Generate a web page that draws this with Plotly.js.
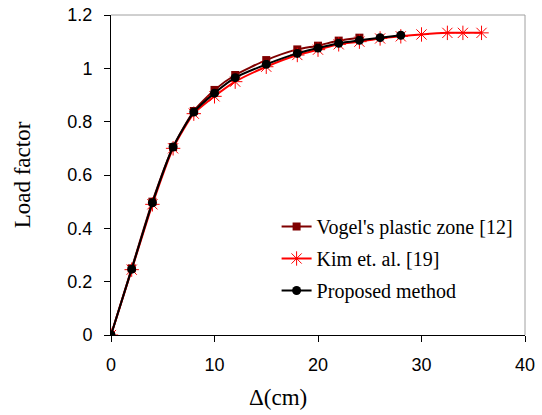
<!DOCTYPE html>
<html>
<head>
<meta charset="utf-8">
<script src="https://cdn.plot.ly/plotly-3.0.1.min.js"></script>
<style>html,body{margin:0;padding:0;background:#fff;}#chart{width:542px;height:415px;}</style>
</head>
<body>
<div id="chart"></div>
<script>
// Data
var vogelX = [0, 2, 4, 6, 8, 10, 12, 15, 18, 20, 22, 24];
var vogelY = [0, 0.25, 0.5, 0.705, 0.84, 0.919, 0.975, 1.031, 1.071, 1.085, 1.104, 1.115];

var kimX = [0, 2, 4, 6, 8, 10, 12, 15, 18, 20, 22, 24, 26, 28, 30, 32.5, 34, 35.8];
var kimY = [0, 0.245, 0.49, 0.7, 0.83, 0.895, 0.95, 1.006, 1.05, 1.07, 1.09, 1.1, 1.112, 1.12, 1.127, 1.133, 1.133, 1.133];

var propX = [0, 2, 4, 6, 8, 10, 12, 15, 18, 20, 22, 24, 26, 28];
var propY = [0, 0.247, 0.496, 0.705, 0.836, 0.907, 0.965, 1.015, 1.056, 1.076, 1.094, 1.105, 1.115, 1.124];

var seriesNames = ["Vogel's plastic zone [12]", "Kim et. al. [19]", "Proposed method"];
var xTicks = [0, 10, 20, 30, 40];
var yTicks = [0, 0.2, 0.4, 0.6, 0.8, 1, 1.2];

var traces = [
  {x: vogelX, y: vogelY, name: seriesNames[0], legendgroup: 'g1', type: 'scatter', mode: 'lines+markers',
   line: {color: '#800000', width: 2, shape: 'spline', smoothing: 0.6},
   marker: {symbol: 'square', size: 8, color: '#800000'}},
  {x: kimX, y: kimY, name: seriesNames[1], legendgroup: 'g2', type: 'scatter', mode: 'lines+markers',
   line: {color: '#ff0000', width: 2, shape: 'spline', smoothing: 0.6},
   marker: {symbol: 'asterisk-open', size: 12, color: '#ff0000', line: {color: '#ff0000', width: 1}}},
  {x: propX, y: propY, name: seriesNames[2], legendgroup: 'g3', type: 'scatter', mode: 'lines+markers',
   line: {color: '#000000', width: 2, shape: 'spline', smoothing: 0.6},
   marker: {symbol: 'circle', size: 9, color: '#000000'}}
];

var layout = {
  width: 542, height: 415,
  margin: {l: 111, r: 17, t: 15, b: 80},
  paper_bgcolor: '#fff', plot_bgcolor: '#fff',
  showlegend: true,
  legend: {x: 0.40, y: 0.40, xanchor: 'left', yanchor: 'top', bgcolor: 'rgba(0,0,0,0)',
           tracegroupgap: 3,
           font: {family: 'Liberation Serif, Times New Roman, serif', size: 20, color: '#000'}},
  xaxis: {range: [0, 40], tickvals: xTicks, ticktext: xTicks.map(String),
          showgrid: false, zeroline: false, showline: true, linecolor: '#000', linewidth: 1,
          ticks: 'outside', ticklen: 6, tickcolor: '#000', ticklabelstandoff: 7,
          tickfont: {family: 'Liberation Sans, Arial, sans-serif', size: 18, color: '#000'}},
  yaxis: {range: [0, 1.2], tickvals: yTicks, ticktext: yTicks.map(String),
          showgrid: false, zeroline: false, showline: true, linecolor: '#000', linewidth: 1,
          ticks: 'outside', ticklen: 6, tickcolor: '#000', ticklabelstandoff: 8,
          tickfont: {family: 'Liberation Sans, Arial, sans-serif', size: 18, color: '#000'},
          title: {text: 'Load factor', standoff: 30,
                  font: {family: 'Liberation Serif, Times New Roman, serif', size: 23, color: '#000'}}},
  annotations: [
    {text: 'Δ(cm)', xref: 'paper', yref: 'paper', x: 0.403, y: -0.195, xanchor: 'center', yanchor: 'middle',
     showarrow: false, font: {family: 'Liberation Serif, Times New Roman, serif', size: 23, color: '#000'}}
  ],
  shapes: [
    {type: 'line', xref: 'paper', yref: 'paper', x0: 0, x1: 1, y0: 1, y1: 1, line: {color: '#a0a0a0', width: 1}},
    {type: 'line', xref: 'paper', yref: 'paper', x0: 1, x1: 1, y0: 0, y1: 1, line: {color: '#a0a0a0', width: 1}}
  ]
};

Plotly.newPlot('chart', traces, layout, {displayModeBar: false, staticPlot: true});
</script>
</body>
</html>
